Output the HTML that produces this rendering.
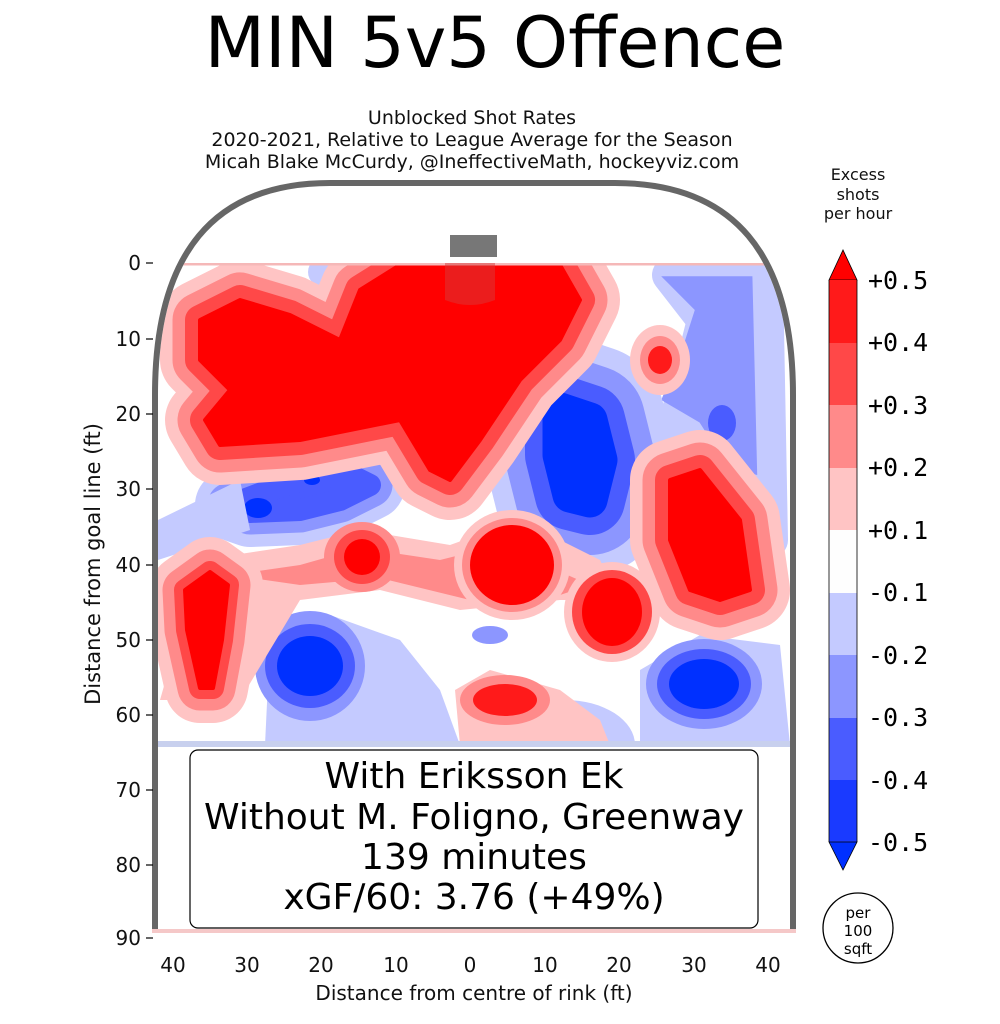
<!DOCTYPE html>
<html><head><style>body{margin:0;background:#fff}svg{display:block}</style></head><body>
<svg width="1000" height="1024" xmlns="http://www.w3.org/2000/svg" font-family="'DejaVu Sans','Liberation Sans',sans-serif">
<defs>
<clipPath id="rink"><path d="M158,748 L158,395 Q158,186 330,186 L615,186 Q790,186 790,395 L790,748 Z"/></clipPath>
<clipPath id="area"><rect x="158" y="263" width="632" height="484"/></clipPath>
<g id="R1"><path d="M200,320 L240,300 L290,315 L340,340 L360,290 L400,265 L560,265 L580,300 L560,340 L520,380 L480,440 L450,480 L430,470 L400,420 L350,430 L300,440 L220,445 L205,420 L230,390 L200,360Z"/></g>
<g id="R3"><path d="M670,480 L700,470 L740,520 L750,590 L720,600 L690,590 L670,540Z"/></g>
<g id="R7"><path d="M185,590 L210,572 L228,585 L222,640 L213,688 L200,688 L187,630Z"/></g>
<g id="B1"><path d="M230,505 L270,490 L310,478 L350,475 L370,485 L340,500 L300,510 L250,512Z"/></g>
<g id="B2"><path d="M560,410 L590,420 L600,460 L590,500 L570,495 L560,455Z"/></g>
<g id="BK"><path d="M670,275 L765,275 L770,540 L740,530 L710,470 L670,440 L690,380 L705,320Z"/></g>
</defs>
<rect width="1000" height="1024" fill="#fff"/>
<text x="495" y="67" font-size="70" text-anchor="middle" fill="#000">MIN 5v5 Offence</text>
<g font-size="19" text-anchor="middle" fill="#111">
<text x="472" y="124">Unblocked Shot Rates</text>
<text x="472" y="146">2020-2021, Relative to League Average for the Season</text>
<text x="472" y="168">Micah Blake McCurdy, @IneffectiveMath, hockeyviz.com</text>
</g>
<g clip-path="url(#area)">
<g clip-path="url(#rink)">
<g stroke-linejoin="round">
<use href="#BK" fill="#c4caff" stroke="#c4caff" stroke-width="36"/>
<use href="#BK" fill="#8c96ff" stroke="none" transform="translate(18,70) scale(0.96 0.75)" />
<ellipse cx="722" cy="423" rx="14" ry="18" fill="#4a5cff"/>
<use href="#B1" fill="#c4caff" stroke="#c4caff" stroke-width="70"/>
<use href="#B1" fill="#8c96ff" stroke="#8c96ff" stroke-width="45"/>
<use href="#B1" fill="#4a5cff" stroke="#4a5cff" stroke-width="22"/>
<ellipse cx="258" cy="508" rx="14" ry="10" fill="#0030ff"/>
<ellipse cx="312" cy="480" rx="8" ry="5" fill="#0030ff"/>
<use href="#B2" fill="#c4caff" stroke="#c4caff" stroke-width="150"/>
<use href="#B2" fill="#8c96ff" stroke="#8c96ff" stroke-width="110"/>
<use href="#B2" fill="#4a5cff" stroke="#4a5cff" stroke-width="70"/>
<use href="#B2" fill="#0030ff" stroke="#0030ff" stroke-width="35"/>
<path d="M265,745 L270,640 L330,615 L400,640 L440,690 L460,745Z" fill="#c4caff"/>
<ellipse cx="310" cy="666" rx="55" ry="55" fill="#8c96ff"/>
<ellipse cx="310" cy="666" rx="45" ry="42" fill="#4a5cff"/>
<ellipse cx="310" cy="666" rx="33" ry="30" fill="#0030ff"/>
<ellipse cx="565" cy="745" rx="70" ry="45" fill="#c4caff"/>
<path d="M640,745 L640,670 L700,635 L780,645 L790,745Z" fill="#c4caff"/>
<ellipse cx="704" cy="684" rx="58" ry="45" fill="#8c96ff"/>
<ellipse cx="704" cy="684" rx="47" ry="35" fill="#4a5cff"/>
<ellipse cx="704" cy="684" rx="35" ry="25" fill="#0030ff"/>
<ellipse cx="490" cy="635" rx="18" ry="9" fill="#8c96ff"/>
<ellipse cx="330" cy="272" rx="22" ry="18" fill="#c4caff"/>
<path d="M158,520 L240,480 L250,530 L158,560Z" fill="#c4caff"/>
</g>
<g stroke-linejoin="round">
<use href="#R1" fill="#ffc4c4" stroke="#ffc4c4" stroke-width="80"/>
<use href="#R1" fill="#ff8a8a" stroke="#ff8a8a" stroke-width="55"/>
<use href="#R1" fill="#ff4848" stroke="#ff4848" stroke-width="30"/>
<use href="#R1" fill="#ff0000" stroke="#ff0000" stroke-width="4"/>
<path d="M200,560 L300,545 L360,530 L450,545 L520,520 L600,560 L620,600 L560,600 L460,610 L380,590 L300,600 L240,700 L160,700Z" fill="#ffc4c4"/>
<path d="M230,575 L300,565 L360,548 L440,560 L500,545 L590,585 L560,595 L470,600 L380,578 L300,585Z" fill="#ff8a8a"/>
<use href="#R7" fill="#ffc4c4" stroke="#ffc4c4" stroke-width="70"/>
<use href="#R7" fill="#ff8a8a" stroke="#ff8a8a" stroke-width="45"/>
<use href="#R7" fill="#ff4848" stroke="#ff4848" stroke-width="22"/>
<use href="#R7" fill="#ff0000" stroke="#ff0000" stroke-width="4"/>
<ellipse cx="362" cy="557" rx="38" ry="35" fill="#ff8a8a"/>
<ellipse cx="362" cy="557" rx="28" ry="27" fill="#ff4848"/>
<ellipse cx="362" cy="557" rx="18" ry="18" fill="#ff0000"/>
<ellipse cx="512" cy="565" rx="58" ry="55" fill="#ffc4c4"/>
<ellipse cx="512" cy="565" rx="50" ry="47" fill="#ff8a8a"/>
<ellipse cx="512" cy="565" rx="42" ry="40" fill="#ff0000"/>
<use href="#R3" fill="#ffc4c4" stroke="#ffc4c4" stroke-width="80"/>
<use href="#R3" fill="#ff8a8a" stroke="#ff8a8a" stroke-width="55"/>
<use href="#R3" fill="#ff4848" stroke="#ff4848" stroke-width="30"/>
<use href="#R3" fill="#ff0000" stroke="#ff0000" stroke-width="4"/>
<ellipse cx="612" cy="612" rx="48" ry="50" fill="#ffc4c4"/>
<ellipse cx="612" cy="612" rx="40" ry="42" fill="#ff4848"/>
<ellipse cx="612" cy="612" rx="30" ry="34" fill="#ff0000"/>
<ellipse cx="660" cy="360" rx="30" ry="35" fill="#ffc4c4"/>
<ellipse cx="660" cy="360" rx="20" ry="24" fill="#ff8a8a"/>
<ellipse cx="660" cy="360" rx="12" ry="14" fill="#ff1a1a"/>
<path d="M460,745 L455,690 L490,670 L560,690 L600,720 L610,745Z" fill="#ffc4c4"/>
<ellipse cx="505" cy="700" rx="45" ry="25" fill="#ff8a8a"/>
<ellipse cx="505" cy="700" rx="32" ry="16" fill="#ff1a1a"/>
</g>
<rect x="158" y="741" width="632" height="8" fill="#c8d0ee"/>
<line x1="158" y1="264" x2="790" y2="264" stroke="#f5b8b8" stroke-width="3"/>
<path d="M445,263 L495,263 L495,300 Q470,310 445,300Z" fill="#d83a3a" opacity="0.5"/>
</g></g>
<rect x="450" y="235" width="47" height="22" fill="#777"/>
<path d="M155,931 L155,395 Q155,183 330,183 L615,183 Q793,183 793,395 L793,931" fill="none" stroke="#666" stroke-width="6"/>
<line x1="152" y1="931" x2="796" y2="931" stroke="#f5c8c8" stroke-width="4"/>
<rect x="190" y="750" width="568" height="178" rx="8" fill="#fff" stroke="#000" stroke-width="1.2"/>
<g font-size="36" text-anchor="middle" fill="#000">
<text x="474" y="788">With Eriksson Ek</text>
<text x="474" y="829">Without M. Foligno, Greenway</text>
<text x="474" y="869">139 minutes</text>
<text x="474" y="909">xGF/60: 3.76 (+49%)</text>
</g>
<g font-size="20" fill="#111" text-anchor="end">
<text x="141" y="270">0</text><text x="141" y="346">10</text><text x="141" y="421">20</text><text x="141" y="496">30</text><text x="141" y="572">40</text><text x="141" y="647">50</text><text x="141" y="722">60</text><text x="141" y="797">70</text><text x="141" y="872">80</text><text x="141" y="945">90</text>
</g>
<g stroke="#000" stroke-width="1.2"><line x1="146" y1="263" x2="153" y2="263"/><line x1="146" y1="339" x2="153" y2="339"/><line x1="146" y1="414" x2="153" y2="414"/><line x1="146" y1="489" x2="153" y2="489"/><line x1="146" y1="565" x2="153" y2="565"/><line x1="146" y1="640" x2="153" y2="640"/><line x1="146" y1="715" x2="153" y2="715"/><line x1="146" y1="790" x2="153" y2="790"/><line x1="146" y1="865" x2="153" y2="865"/><line x1="146" y1="938" x2="153" y2="938"/></g>
<g font-size="20" fill="#111" text-anchor="middle">
<text x="173" y="972">40</text><text x="247" y="972">30</text><text x="321" y="972">20</text><text x="396" y="972">10</text><text x="470" y="972">0</text><text x="545" y="972">10</text><text x="619" y="972">20</text><text x="694" y="972">30</text><text x="768" y="972">40</text>
<text x="474" y="1000">Distance from centre of rink (ft)</text>
<text transform="translate(100,564) rotate(-90)" font-size="21">Distance from goal line (ft)</text>
</g>
<g font-size="16" fill="#111" text-anchor="middle">
<text x="858" y="180">Excess</text><text x="858" y="200">shots</text><text x="858" y="219">per hour</text>
</g>
<path d="M829,280 L843,250 L857,280Z" fill="#ff0000" stroke="#000" stroke-width="0.8"/>
<rect x="829" y="280" width="28" height="63" fill="#ff1a1a"/>
<rect x="829" y="343" width="28" height="62" fill="#ff4848"/>
<rect x="829" y="405" width="28" height="63" fill="#ff8a8a"/>
<rect x="829" y="468" width="28" height="62" fill="#ffc4c4"/>
<rect x="829" y="530" width="28" height="63" fill="#fefefe"/>
<rect x="829" y="593" width="28" height="62" fill="#c4caff"/>
<rect x="829" y="655" width="28" height="63" fill="#8c96ff"/>
<rect x="829" y="718" width="28" height="62" fill="#4a5cff"/>
<rect x="829" y="780" width="28" height="62" fill="#1a3aff"/>
<path d="M829,842 L843,870 L857,842Z" fill="#0030ff" stroke="#000" stroke-width="0.8"/>
<path d="M829,280 L829,842 M857,280 L857,842" stroke="#000" stroke-width="0.8"/>
<g font-family="'DejaVu Sans Mono','Liberation Mono',monospace" font-size="25" fill="#000">
<text x="868" y="289">+0.5</text><text x="868" y="351">+0.4</text><text x="868" y="414">+0.3</text><text x="868" y="476">+0.2</text><text x="868" y="539">+0.1</text><text x="868" y="601">-0.1</text><text x="868" y="664">-0.2</text><text x="868" y="726">-0.3</text><text x="868" y="789">-0.4</text><text x="868" y="851">-0.5</text>
</g>
<circle cx="858" cy="928" r="35" fill="#fff" stroke="#000" stroke-width="1.3"/>
<g font-size="15" text-anchor="middle" fill="#000"><text x="858" y="918">per</text><text x="858" y="936">100</text><text x="858" y="954">sqft</text></g>
</svg>
</body></html>
